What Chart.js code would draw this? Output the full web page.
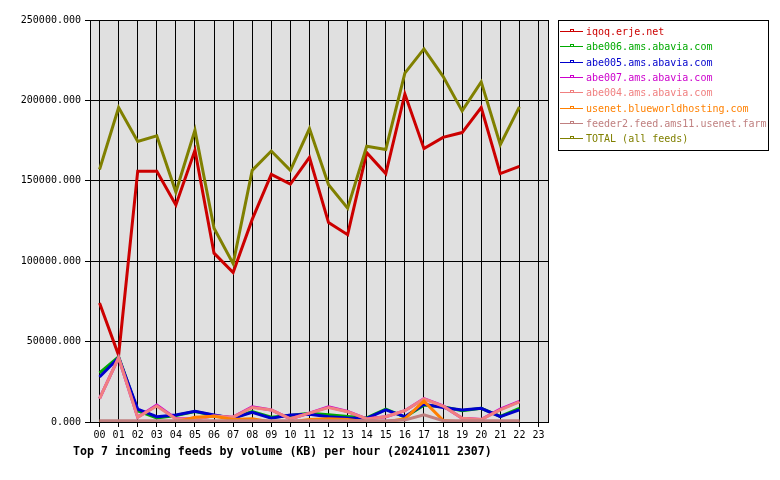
<!DOCTYPE html>
<html>
<head>
<meta charset="utf-8">
<script src="https://cdn.jsdelivr.net/npm/chart.js@4/dist/chart.umd.min.js"></script>
<style>
  body { margin: 0; background: #fff; }
  #wrap { width: 780px; height: 480px; }
</style>
</head>
<body>
<div id="wrap"><canvas id="feedChart" width="780" height="480"></canvas></div>
<script>
// hours on the x axis (data stops at 22)
const hours = ['00','01','02','03','04','05','06','07','08','09','10','11','12','13','14','15','16','17','18','19','20','21','22','23'];
const yTicks = [0, 50000, 100000, 150000, 200000, 250000];

// KB per hour
const iqoq    = [74000, 41500, 156000, 156000, 135000, 169000, 105000, 93000, 126000, 154000, 148000, 164500, 124000, 116500, 167500, 154500, 204000, 170000, 177000, 180000, 195500, 154500, 159000];
const abe006  = [30500, 40500, 7000, 2500, 4000, 6500, 4000, 2500, 6500, 3000, 4000, 5500, 4500, 3500, 2500, 8000, 3000, 10500, 9500, 7000, 8500, 3500, 8500];
const abe005  = [28000, 40000, 8000, 3300, 4400, 6600, 4400, 2300, 6000, 2300, 4400, 4800, 3300, 2500, 2300, 7500, 3300, 11000, 9000, 7500, 8500, 3300, 7500];
const abe007  = [14500, 40000, 3000, 10500, 2000, 2000, 3800, 3000, 9500, 7500, 2000, 5500, 9500, 6500, 2000, 3300, 7000, 14500, 10000, 2300, 1500, 8000, 12800];
const abe004  = [14500, 40000, 2900, 9900, 1800, 2000, 3700, 3000, 9000, 7500, 2000, 5500, 9000, 6400, 1900, 3300, 7000, 14300, 9900, 2300, 1500, 7500, 12500];
const usenet  = [0, 0, 0, 0, 0, 3000, 3500, 1500, 2000, 0, 0, 1500, 2000, 1500, 0, 0, 2000, 13000, 1000, 0, 0, 0, 0];
const feeder2 = [800, 800, 800, 800, 800, 800, 800, 800, 800, 800, 800, 800, 800, 800, 800, 800, 1200, 4400, 800, 800, 800, 800, 800];
const total   = [157000, 195500, 174500, 178000, 143000, 181500, 120500, 98500, 156500, 168500, 156500, 182500, 147500, 133000, 171500, 169500, 217000, 232000, 215000, 193500, 211500, 172500, 196000];

const feedNames  = ['iqoq.erje.net', 'abe006.ams.abavia.com', 'abe005.ams.abavia.com', 'abe007.ams.abavia.com', 'abe004.ams.abavia.com', 'usenet.blueworldhosting.com', 'feeder2.feed.ams11.usenet.farm', 'TOTAL (all feeds)'];
const feedColors = ['#cc0000', '#00aa00', '#0000cc', '#cc00cc', '#f08080', '#ff8000', '#c08080', '#808000'];
const feedData   = [iqoq, abe006, abe005, abe007, abe004, usenet, feeder2, total];

const titleText = 'Top 7 incoming feeds by volume (KB) per hour (20241011 2307)';
const mono = 'DejaVu Sans Mono';

// grey plot background + frame, legend box and title underneath
const decor = {
  id: 'decor',
  beforeDraw(chart) {
    const { ctx, chartArea: a } = chart;
    ctx.save();
    ctx.fillStyle = '#e0e0e0';
    ctx.fillRect(a.left, a.top, a.right - a.left, a.bottom - a.top);
    ctx.restore();
  },
  afterDraw(chart) {
    const { ctx, chartArea: a } = chart;
    ctx.save();
    ctx.strokeStyle = '#000';
    ctx.lineWidth = 1;
    ctx.strokeRect(Math.round(a.left) + 0.5, Math.round(a.top) + 0.5, Math.round(a.right - a.left), Math.round(a.bottom - a.top));

    // legend
    ctx.strokeRect(558.5, 20.5, 210, 130);
    ctx.font = '10px "' + mono + '"';
    ctx.textBaseline = 'middle';
    chart.data.datasets.forEach((ds, i) => {
      const y = Math.round(31 + i * 15.3) + 0.5;
      ctx.strokeStyle = ds.borderColor;
      ctx.beginPath();
      ctx.moveTo(560, y); ctx.lineTo(583, y);
      ctx.stroke();
      ctx.strokeRect(570.5, y - 2, 3, 2);
      ctx.fillStyle = ds.borderColor;
      ctx.fillText(ds.label, 586, y + 0.5);
    });

    // title
    ctx.fillStyle = '#000';
    ctx.font = 'bold 11.6px "' + mono + '"';
    ctx.fillText(titleText, 73, 452);
    ctx.restore();
  }
};

const ctx = document.getElementById('feedChart').getContext('2d');
new Chart(ctx, {
  type: 'line',
  data: {
    labels: hours,
    datasets: feedData.map((d, i) => ({
      label: feedNames[i],
      data: d,
      borderColor: feedColors[i],
      borderWidth: 3,
      pointRadius: 0,
      tension: 0,
      fill: false,
      order: feedData.length - i // later feeds drawn on top
    }))
  },
  options: {
    responsive: false,
    animation: false,
    layout: { padding: { left: 0, right: 232, top: 20, bottom: 0 } },
    plugins: { legend: { display: false }, tooltip: { enabled: false } },
    scales: {
      x: {
        offset: true,
        grid: { offset: false, color: '#000', lineWidth: 1, tickLength: 5 },
        border: { display: true, color: '#000' },
        ticks: { color: '#000', font: { family: mono, size: 10 }, maxRotation: 0, autoSkip: false, padding: 2 },
        afterFit: s => { s.height = 58; }
      },
      y: {
        min: 0, max: 250000,
        afterBuildTicks: s => { s.ticks = yTicks.map(v => ({ value: v })); },
        grid: { color: '#000', lineWidth: 1, tickLength: 5 },
        border: { display: true, color: '#000' },
        ticks: { color: '#000', font: { family: mono, size: 10 }, padding: 4, callback: v => Number(v).toFixed(3) },
        afterFit: s => { s.width = 90; }
      }
    }
  },
  plugins: [decor]
});
</script>
</body>
</html>
